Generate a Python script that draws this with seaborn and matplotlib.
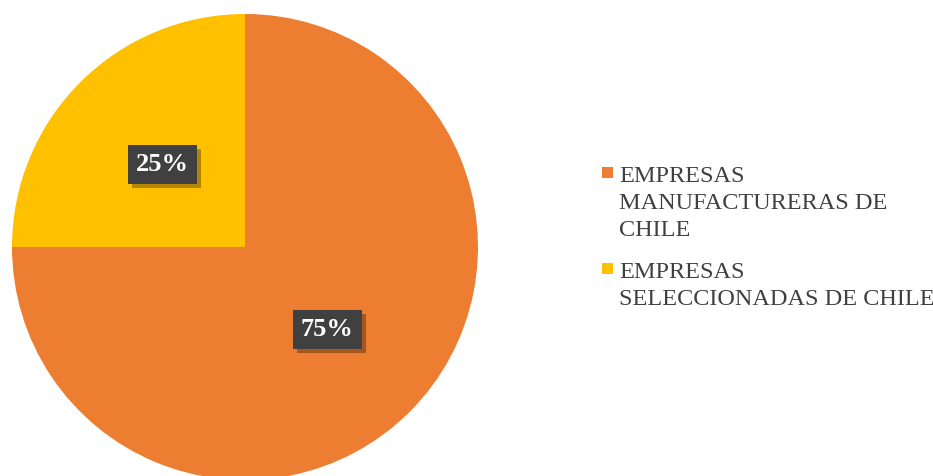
import matplotlib
matplotlib.use("Agg")
import matplotlib.pyplot as plt
import matplotlib.patheffects as pe
from matplotlib.patches import Rectangle
import seaborn as sns

categories = ["EMPRESAS\nMANUFACTURERAS DE\nCHILE", "EMPRESAS\nSELECCIONADAS DE CHILE"]
values = [75, 25]
colors = ["#ED7D31", "#FFC000"]

sns.set_theme(style="white")
plt.rcParams['font.family'] = ['Liberation Serif', 'DejaVu Serif']

fig = plt.figure(figsize=(9.33, 4.76), dpi=100)
fig.patch.set_facecolor("white")
ax = fig.add_axes([12/933, -4/476, 466/933, 466/476])
wedges, texts, autotexts = ax.pie(values, colors=colors, startangle=90, counterclock=False,
                                   autopct="%d%%", pctdistance=0.5, radius=1,
                                   wedgeprops=dict(linewidth=0))
ax.set_xlim(-1, 1)
ax.set_ylim(-1, 1)
ax.set_aspect("equal")
ax.axis("off")
for t in autotexts:
    t.set_color("white")
    t.set_fontsize(19)
    t.set_fontweight("bold")
    t.set_bbox(dict(boxstyle="square,pad=0.3", facecolor="#404040", edgecolor="none"))
    t.get_bbox_patch().set_path_effects([pe.SimplePatchShadow(offset=(3, -3), shadow_rgbFace="black", alpha=0.3), pe.Normal()])

W, H = 933, 476
last_baselines = [236, 305]
square_tops = [167, 263]
for lab, col, yb, st in zip(categories, colors, last_baselines, square_tops):
    fig.patches.append(Rectangle((602/W, (H-st-11)/H), 11/W, 11/H, transform=fig.transFigure,
                                 facecolor=col, edgecolor="none"))
    fig.text(619/W, (H-yb)/H, lab, transform=fig.transFigure, fontsize=17.5, color="#404040",
             ha="left", va="baseline", linespacing=1.37)

fig.savefig("out.png", dpi=100)
